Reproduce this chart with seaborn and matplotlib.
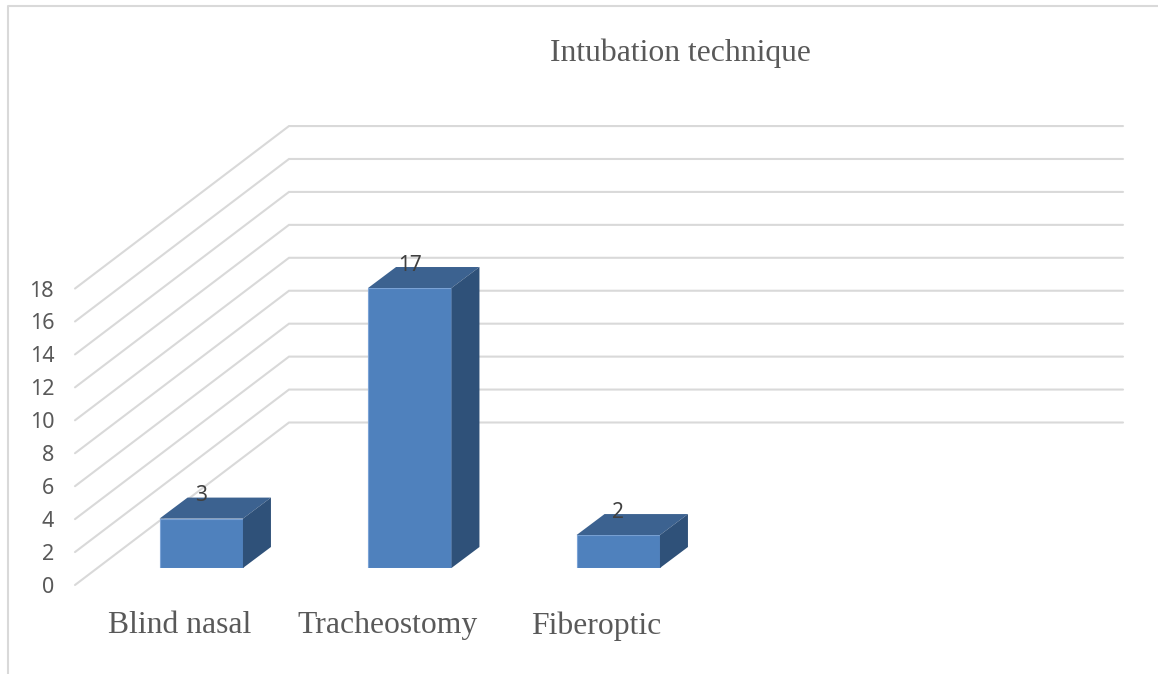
import matplotlib
matplotlib.use('Agg')
import matplotlib.pyplot as plt
from matplotlib.lines import Line2D
import pandas as pd
import seaborn as sns

categories = ['Blind nasal', 'Tracheostomy', 'Fiberoptic', '']
values = [3, 17, 2, None]
y_ticks = [0, 2, 4, 6, 8, 10, 12, 14, 16, 18]
title = 'Intubation technique'

W, H = 1158, 674
PX_PER_UNIT = 16.47
CAT_PX = 208.5
GRID = '#d9d9d9'
FRONT = '#4f81bd'
TOP = '#3c6290'
SIDE = '#2f5179'
SERIF = 'Liberation Serif'
SANS = 'Noto Sans'


def rect(left, bottom):
    # pixel position, measured from the top left of the picture
    height = 18 * PX_PER_UNIT
    return [left / W, 1 - bottom / H, 4 * CAT_PX / W, height / H]


def main():
    sns.set_theme(style='white')
    df = pd.DataFrame({'technique': categories, 'count': values})

    fig = plt.figure(figsize=(W / 100, H / 100), dpi=100)
    fig.add_artist(Line2D([8 / W, 8 / W, 1], [0, 1 - 6 / H, 1 - 6 / H], color=GRID, lw=1.5))

    # floor and wall of the fake 3D box
    wall = fig.add_axes(rect(75, 585))
    wall.set_xlim(-0.5, 3.5)
    wall.set_ylim(0, 18)
    wall.patch.set_visible(False)
    sns.despine(ax=wall, left=True, bottom=True)
    back_x = 214 / CAT_PX
    back_y = 162.5 / PX_PER_UNIT
    for v in y_ticks:
        wall.plot([-0.5, -0.5 + back_x, 3.5 + back_x], [v, v + back_y, v + back_y],
                  color=GRID, lw=1.5, clip_on=False, solid_joinstyle='miter')
    wall.set_yticks(y_ticks)
    wall.set_yticklabels(y_ticks, family=SANS, fontsize=15.5, color='#595959')
    wall.set_xticks(range(3))
    wall.set_xticklabels(categories[:3], family=SERIF, fontsize=22.8, color='#595959')
    wall.tick_params(axis='y', length=0, pad=15)
    wall.tick_params(axis='x', length=0, pad=19)

    # bars sit a little further back than the front edge of the floor
    ax = fig.add_axes(rect(97, 568))
    ax.patch.set_visible(False)
    sns.barplot(data=df, x='technique', y='count', color=FRONT, saturation=1, width=0.4,
                edgecolor='#7ba3d6', linewidth=0.8, ax=ax, zorder=3)
    ax.set_xlim(-0.5, 3.5)
    ax.set_ylim(0, 18)
    ax.axis('off')

    dx = 28 / CAT_PX
    dy = 21 / PX_PER_UNIT
    half = 0.2
    for i, v in enumerate(values[:3]):
        ax.fill([i - half, i - half + dx, i + half + dx, i + half], [v, v + dy, v + dy, v],
                color=TOP, lw=0, clip_on=False, zorder=3)
        ax.fill([i + half, i + half + dx, i + half + dx, i + half], [0, dy, v + dy, v],
                color=SIDE, lw=0, clip_on=False, zorder=3)
        ax.annotate(str(v), (i, v), xytext=(0, 16.5), textcoords='offset points', ha='center',
                    va='center', family=SANS, fontsize=15, color='#404040', zorder=4,
                    annotation_clip=False)

    fig.text(680 / W, 1 - 53 / H, title, family=SERIF, fontsize=22.8, color='#595959',
             ha='center', va='center')

    plt.savefig('out.png', dpi=100)


if __name__ == '__main__':
    main()
